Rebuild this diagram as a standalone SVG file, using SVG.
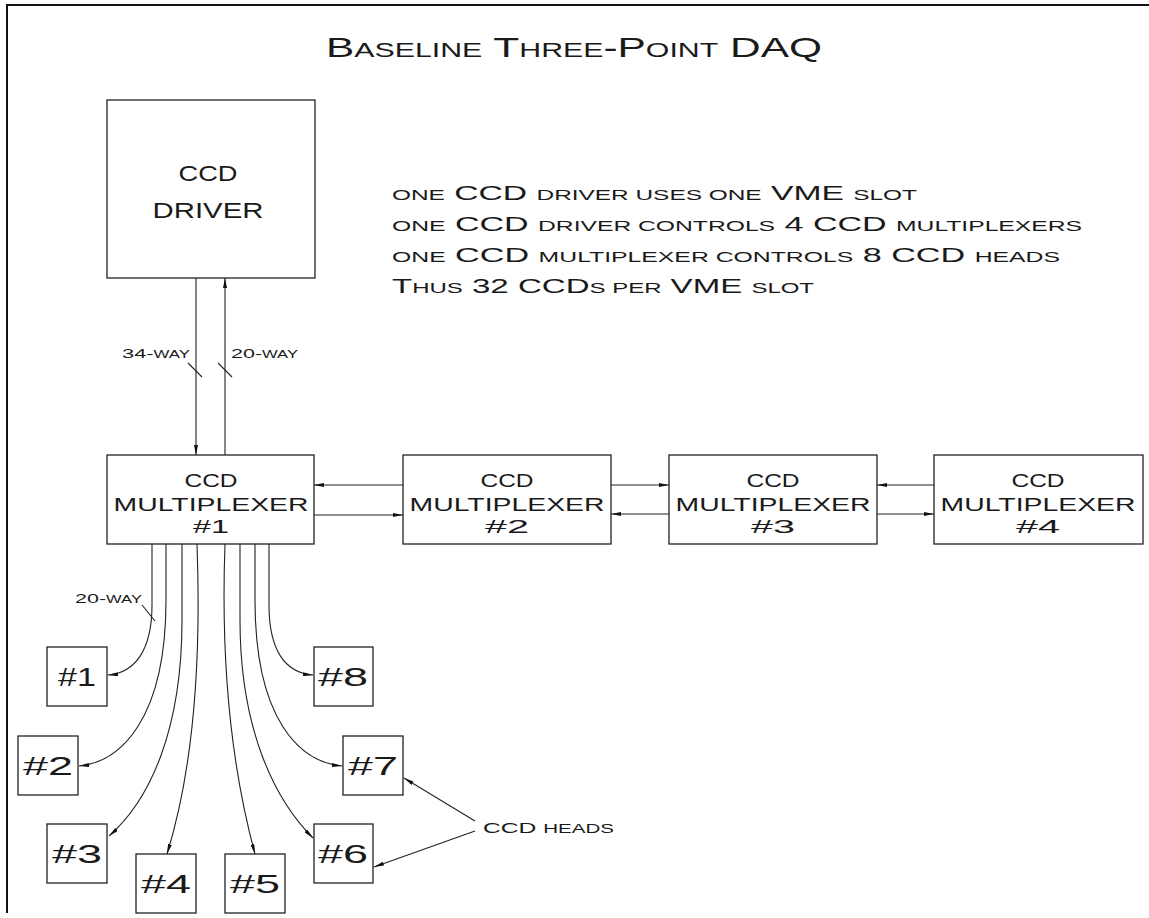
<svg xmlns="http://www.w3.org/2000/svg" width="1149" height="918" viewBox="0 0 1149 918">
<defs>
<style>
text{font-family:"Liberation Sans","DejaVu Sans",sans-serif;fill:#1a1a1a}
.box{fill:#fff;stroke:#222;stroke-width:1.3}
.ln{fill:none;stroke:#222;stroke-width:1.1}
.frame{fill:none;stroke:#111;stroke-width:2}
.t{font-size:28px}
.t .s{font-size:20px}
.n{font-size:20px}
.n .s{font-size:14.5px}
.mx{font-size:18px;text-anchor:middle}
.dr{font-size:22px;text-anchor:middle}
.hd{font-size:25px;text-anchor:middle}
.lab{font-size:13px}
.lab .s{font-size:10px}
</style>
<marker id="ah" viewBox="0 0 10 4" refX="10" refY="2" markerWidth="10" markerHeight="4" markerUnits="userSpaceOnUse" orient="auto">
<path d="M0,0 L10,2 L0,4 z" fill="#111"/>
</marker>
</defs>
<rect width="1149" height="918" fill="#fff"/>
<path class="frame" d="M7,913 L7,5 L1149,5"/>

<text class="t" x="326" y="57" textLength="496" lengthAdjust="spacingAndGlyphs">B<tspan class="s">ASELINE</tspan> T<tspan class="s">HREE</tspan>-P<tspan class="s">OINT</tspan> DAQ</text>

<g id="notes">
<text class="n" x="392" y="200" textLength="525" lengthAdjust="spacingAndGlyphs"><tspan class="s">ONE</tspan> CCD <tspan class="s">DRIVER USES ONE</tspan> VME <tspan class="s">SLOT</tspan></text>
<text class="n" x="392" y="231" textLength="690" lengthAdjust="spacingAndGlyphs"><tspan class="s">ONE</tspan> CCD <tspan class="s">DRIVER CONTROLS</tspan> 4 CCD <tspan class="s">MULTIPLEXERS</tspan></text>
<text class="n" x="392" y="262" textLength="668" lengthAdjust="spacingAndGlyphs"><tspan class="s">ONE</tspan> CCD <tspan class="s">MULTIPLEXER CONTROLS</tspan> 8 CCD <tspan class="s">HEADS</tspan></text>
<text class="n" x="392" y="293" textLength="422" lengthAdjust="spacingAndGlyphs">T<tspan class="s">HUS</tspan> 32 CCD<tspan class="s">S PER</tspan> VME <tspan class="s">SLOT</tspan></text>
</g>

<g id="driver">
<rect class="box" x="107" y="100" width="208" height="178"/>
<text class="dr" x="208" y="181" textLength="59" lengthAdjust="spacingAndGlyphs">CCD</text>
<text class="dr" x="208" y="218" textLength="111" lengthAdjust="spacingAndGlyphs">DRIVER</text>
</g>

<g id="mux1">
<rect class="box" x="107" y="455" width="207" height="89"/>
<text class="mx" x="211" y="487" textLength="53" lengthAdjust="spacingAndGlyphs">CCD</text>
<text class="mx" x="211" y="511" textLength="195" lengthAdjust="spacingAndGlyphs">MULTIPLEXER</text>
<text class="mx" x="211" y="533" textLength="36" lengthAdjust="spacingAndGlyphs">#1</text>
</g>
<g id="mux2">
<rect class="box" x="403" y="455" width="208" height="89"/>
<text class="mx" x="507" y="487" textLength="53" lengthAdjust="spacingAndGlyphs">CCD</text>
<text class="mx" x="507" y="511" textLength="195" lengthAdjust="spacingAndGlyphs">MULTIPLEXER</text>
<text class="mx" x="507" y="533" textLength="44" lengthAdjust="spacingAndGlyphs">#2</text>
</g>
<g id="mux3">
<rect class="box" x="669" y="455" width="208" height="89"/>
<text class="mx" x="773" y="487" textLength="53" lengthAdjust="spacingAndGlyphs">CCD</text>
<text class="mx" x="773" y="511" textLength="195" lengthAdjust="spacingAndGlyphs">MULTIPLEXER</text>
<text class="mx" x="773" y="533" textLength="44" lengthAdjust="spacingAndGlyphs">#3</text>
</g>
<g id="mux4">
<rect class="box" x="934" y="455" width="209" height="89"/>
<text class="mx" x="1038" y="487" textLength="53" lengthAdjust="spacingAndGlyphs">CCD</text>
<text class="mx" x="1038" y="511" textLength="195" lengthAdjust="spacingAndGlyphs">MULTIPLEXER</text>
<text class="mx" x="1038" y="533" textLength="44" lengthAdjust="spacingAndGlyphs">#4</text>
</g>

<g id="head1"><rect class="box" x="47" y="647" width="60" height="59"/><text class="hd" x="77" y="686" textLength="38" lengthAdjust="spacingAndGlyphs">#1</text></g>
<g id="head2"><rect class="box" x="18" y="736" width="60" height="59"/><text class="hd" x="48" y="775" textLength="50" lengthAdjust="spacingAndGlyphs">#2</text></g>
<g id="head3"><rect class="box" x="47" y="824" width="60" height="59"/><text class="hd" x="77" y="863" textLength="50" lengthAdjust="spacingAndGlyphs">#3</text></g>
<g id="head4"><rect class="box" x="136" y="854" width="60" height="59"/><text class="hd" x="166" y="893" textLength="50" lengthAdjust="spacingAndGlyphs">#4</text></g>
<g id="head5"><rect class="box" x="225" y="854" width="60" height="59"/><text class="hd" x="255" y="893" textLength="50" lengthAdjust="spacingAndGlyphs">#5</text></g>
<g id="head6"><rect class="box" x="314" y="824" width="59" height="59"/><text class="hd" x="343" y="863" textLength="50" lengthAdjust="spacingAndGlyphs">#6</text></g>
<g id="head7"><rect class="box" x="343" y="736" width="60" height="59"/><text class="hd" x="373" y="775" textLength="50" lengthAdjust="spacingAndGlyphs">#7</text></g>
<g id="head8"><rect class="box" x="314" y="647" width="59" height="59"/><text class="hd" x="343" y="686" textLength="50" lengthAdjust="spacingAndGlyphs">#8</text></g>

<g id="connectors">
<path class="ln" d="M196,278 L196,455" marker-end="url(#ah)"/>
<path class="ln" d="M225,455 L225,278" marker-end="url(#ah)"/>
<path class="ln" d="M188,363 L202,377 M218,363 L232,377"/>
<path class="ln" d="M403,485 L314,485" marker-end="url(#ah)"/>
<path class="ln" d="M314,515 L403,515" marker-end="url(#ah)"/>
<path class="ln" d="M611,485 L669,485" marker-end="url(#ah)"/>
<path class="ln" d="M669,514 L611,514" marker-end="url(#ah)"/>
<path class="ln" d="M934,485 L877,485" marker-end="url(#ah)"/>
<path class="ln" d="M877,514 L934,514" marker-end="url(#ah)"/>
<path class="ln" d="M152,544 L152,605 C152,650 135,673 108,675" marker-end="url(#ah)"/>
<path class="ln" d="M166,544 L166,600 C166,720 120,762 79,766" marker-end="url(#ah)"/>
<path class="ln" d="M182,544 L182,620 C182,730 150,800 109,836" marker-end="url(#ah)"/>
<path class="ln" d="M197,544 C202,680 190,780 167,854" marker-end="url(#ah)"/>
<path class="ln" d="M225,544 C220,680 235,780 255,854" marker-end="url(#ah)"/>
<path class="ln" d="M240,544 L240,620 C240,730 275,800 313,838" marker-end="url(#ah)"/>
<path class="ln" d="M255,544 L255,600 C255,720 300,762 342,766" marker-end="url(#ah)"/>
<path class="ln" d="M269,544 L269,605 C269,650 285,673 313,675" marker-end="url(#ah)"/>
<path class="ln" d="M142,605 L155,621"/>
<path class="ln" d="M475,821 L404,778" marker-end="url(#ah)"/>
<path class="ln" d="M475,831 L374,867" marker-end="url(#ah)"/>
</g>

<g id="labels">
<text class="lab" x="122" y="358" textLength="68" lengthAdjust="spacingAndGlyphs">34-<tspan class="s">WAY</tspan></text>
<text class="lab" x="231" y="358" textLength="67" lengthAdjust="spacingAndGlyphs">20-<tspan class="s">WAY</tspan></text>
<text class="lab" x="75" y="603" textLength="67" lengthAdjust="spacingAndGlyphs">20-<tspan class="s">WAY</tspan></text>
<text class="lab" x="483" y="833" style="font-size:15px" textLength="131" lengthAdjust="spacingAndGlyphs">CCD <tspan style="font-size:12.5px">HEADS</tspan></text>
</g>
</svg>
